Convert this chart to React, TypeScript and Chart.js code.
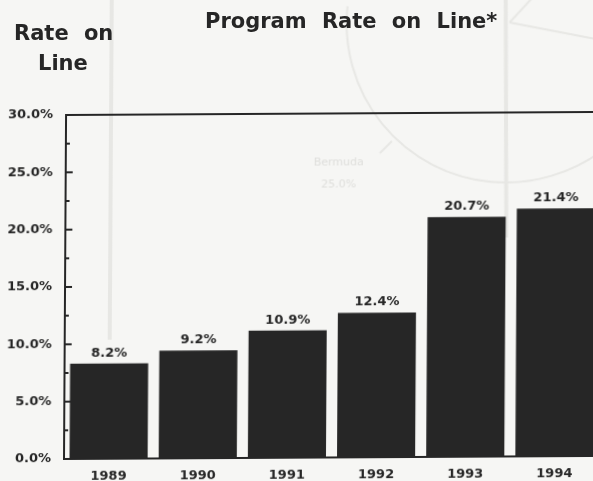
import React, { useEffect, useRef } from "react";
import { Chart, registerables } from "chart.js";

Chart.register(...registerables);

const years = ["1989", "1990", "1991", "1992", "1993", "1994"];
const barHeights = [8.3, 9.4, 11.1, 12.6, 20.9, 21.6];
const rateLabels = ["8.2%", "9.2%", "10.9%", "12.4%", "20.7%", "21.4%"];
const INK = "#262626";
const FONT = "'DejaVu Sans', sans-serif";

const scanGhost = {
  id: "scanGhost",
  beforeDraw(chart: any) {
    const c = chart.ctx;
    c.save();
    c.strokeStyle = "#e7e7e4";
    c.lineWidth = 2;
    c.beginPath();
    c.arc(505, 24, 161, 0.1, Math.PI + 0.1);
    c.stroke();
    c.beginPath();
    c.moveTo(507, 25); c.lineTo(593, 42);
    c.moveTo(507, 25); c.lineTo(530, 0);
    c.moveTo(390, 143); c.lineTo(378, 155);
    c.stroke();
    c.lineWidth = 4;
    c.beginPath();
    c.moveTo(109, 0); c.lineTo(109, 340);
    c.moveTo(503, 0); c.lineTo(505, 240);
    c.stroke();
    c.fillStyle = "#dededb";
    c.font = `11px ${FONT}`;
    c.textAlign = "center";
    c.fillText("Bermuda", 337, 167);
    c.fillText("25.0%", 337, 189);
    c.restore();
  },
};

const minorMajorTicks = {
  id: "minorMajorTicks",
  afterDatasetsDraw(chart: any) {
    const c = chart.ctx;
    const y = chart.scales.y;
    c.save();
    c.strokeStyle = INK;
    c.lineWidth = 2;
    y.ticks.forEach((t: any) => {
      const major = t.value % 5 === 0;
      const p = y.getPixelForValue(t.value);
      c.beginPath();
      c.moveTo(y.right, p);
      c.lineTo(y.right + (major ? 7 : 4), p);
      c.stroke();
    });
    c.restore();
  },
};

const barValueLabels = {
  id: "barValueLabels",
  afterDatasetsDraw(chart: any) {
    const c = chart.ctx;
    const meta = chart.getDatasetMeta(0);
    c.save();
    c.fillStyle = INK;
    c.font = `bold 13px ${FONT}`;
    c.textAlign = "center";
    c.textBaseline = "bottom";
    meta.data.forEach((bar: any, i: number) => {
      c.fillText(rateLabels[i], bar.x, bar.y - 4);
    });
    c.restore();
  },
};

const topRule = {
  id: "topRule",
  afterDatasetsDraw(chart: any) {
    const { ctx: c, chartArea: a } = chart;
    c.save();
    c.strokeStyle = INK;
    c.lineWidth = 2;
    c.beginPath();
    c.moveTo(a.left - 1, a.top);
    c.lineTo(a.right, a.top);
    c.stroke();
    c.restore();
  },
};

export default function App() {
  const ref = useRef<HTMLCanvasElement>(null);
  useEffect(() => {
    const chart = new Chart(ref.current!, {
      type: "bar",
      data: {
        labels: years,
        datasets: [
          {
            data: barHeights,
            backgroundColor: INK,
            categoryPercentage: 1,
            barPercentage: 0.876,
          },
        ],
      },
      options: {
        animation: false,
        responsive: false,
        layout: { padding: { left: 0, top: 115, right: 0, bottom: 0 } },
        plugins: { legend: { display: false }, title: { display: false }, tooltip: { enabled: false } },
        scales: {
          x: {
            afterFit(s: any) { s.height = 22; },
            border: { color: INK, width: 2 },
            grid: { display: false },
            ticks: { color: INK, font: { family: FONT, size: 13, weight: "bold" }, padding: 2, maxRotation: 0 },
          },
          y: {
            min: 0,
            max: 30,
            afterFit(s: any) { s.width = 64; },
            border: { color: INK, width: 2 },
            grid: { drawOnChartArea: false, drawTicks: false },
            ticks: {
              stepSize: 2.5,
              color: INK,
              padding: 13,
              autoSkip: false,
              font: { family: FONT, size: 13, weight: "bold" },
              callback: (v: any) => (Number(v) % 5 === 0 ? Number(v).toFixed(1) + "%" : ""),
            },
          },
        },
      },
      plugins: [scanGhost, topRule, minorMajorTicks, barValueLabels],
    } as any);
    return () => chart.destroy();
  }, []);

  const text: React.CSSProperties = {
    position: "absolute",
    fontFamily: FONT,
    fontWeight: "bold",
    color: INK,
    whiteSpace: "nowrap",
    fontSize: 21,
    wordSpacing: 8,
    lineHeight: "24px",
  };

  return (
    <div style={{ position: "fixed", left: 0, top: 0, width: 593, height: 481, overflow: "hidden", background: "#f6f6f4", filter: "blur(0.5px)" }}>
      <canvas
        ref={ref}
        width={599}
        height={481}
        style={{
          position: "absolute",
          left: 0,
          top: 0,
          width: 599,
          height: 481,
          transform: "matrix(1, -0.0057, -0.006, 1, 0, 0)",
          transformOrigin: "64px 459px",
        }}
      />
      <div style={{ ...text, left: 205, top: 9 }}>Program Rate on Line*</div>
      <div style={{ ...text, left: 14, top: 21 }}>Rate on</div>
      <div style={{ ...text, left: 38, top: 51 }}>Line</div>
    </div>
  );
}
